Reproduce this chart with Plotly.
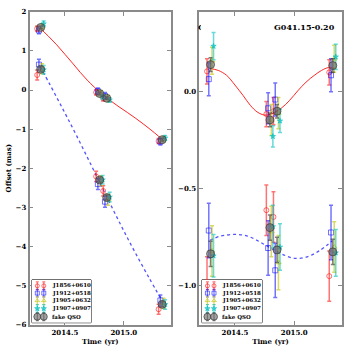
import plotly.graph_objects as go

# ---------------- data ----------------
epochs = [2014.295, 2014.795, 2014.855, 2015.325]
series_names = ["J1856+0610", "J1912+0518", "J1905+0632", "J1907+0907", "fake QSO"]

# left panel (full offsets, mas)
left_upper = {
    "J1856+0610": [1.57, -0.06, -0.21, -1.305],
    "J1912+0518": [1.525, -0.03, -0.15, -1.32],
    "J1905+0632": [1.62, -0.09, -0.22, -1.255],
    "J1907+0907": [1.695, -0.175, -0.255, -1.225],
    "fake QSO":   [1.60, -0.09, -0.21, -1.27],
}
left_lower = {
    "J1856+0610": [0.385, -2.21, -2.58, -5.605],
    "J1912+0518": [0.65, -2.405, -2.855, -5.38],
    "J1905+0632": [0.545, -2.32, -2.805, -5.455],
    "J1907+0907": [0.52, -2.295, -2.735, -5.485],
    "fake QSO":   [0.53, -2.30, -2.75, -5.48],
}
# right panel (proper motion removed, mas)
right_upper = {
    "J1856+0610": [0.105, -0.115, -0.10, 0.10],
    "J1912+0518": [0.065, -0.085, -0.04, 0.085],
    "J1905+0632": [0.16, -0.145, -0.11, 0.17],
    "J1907+0907": [0.235, -0.23, -0.15, 0.18],
    "fake QSO":   [0.14, -0.145, -0.10, 0.135],
}
right_lower = {
    "J1856+0610": [-0.98, -0.61, -0.645, -0.95],
    "J1912+0518": [-0.715, -0.805, -0.92, -0.725],
    "J1905+0632": [-0.82, -0.72, -0.88, -0.80],
    "J1907+0907": [-0.845, -0.695, -0.80, -0.83],
    "fake QSO":   [-0.835, -0.70, -0.815, -0.825],
}
err_upper = {
    "J1856+0610": [0.065, 0.065, 0.07, 0.065],
    "J1912+0518": [0.085, 0.08, 0.085, 0.085],
    "J1905+0632": [0.07, 0.08, 0.08, 0.07],
    "J1907+0907": [0.07, 0.055, 0.06, 0.065],
    "fake QSO":   [0.035, 0.035, 0.035, 0.035],
}
err_lower = {
    "J1856+0610": [0.13, 0.13, 0.13, 0.13],
    "J1912+0518": [0.14, 0.14, 0.14, 0.14],
    "J1905+0632": [0.13, 0.13, 0.14, 0.13],
    "J1907+0907": [0.11, 0.11, 0.12, 0.12],
    "fake QSO":   [0.065, 0.065, 0.065, 0.065],
}

# model curves
fit_t_upper = [2014.29, 2014.36, 2014.43, 2014.5, 2014.57, 2014.63, 2014.69, 2014.75, 2014.80,
               2014.89, 2014.96, 2015.03, 2015.10, 2015.17, 2015.23, 2015.29, 2015.34]
fit_right_upper = [0.12, 0.11, 0.085, 0.035, -0.02, -0.07, -0.105, -0.12, -0.115,
                   -0.085, -0.045, 0.005, 0.05, 0.085, 0.11, 0.125, 0.12]
fit_left_upper = [1.58, 1.377, 1.159, 0.916, 0.669, 0.453, 0.253, 0.073, -0.06,
                  -0.278, -0.431, -0.574, -0.722, -0.879, -1.02, -1.17, -1.313]
fit_t_lower = [2014.29, 2014.37, 2014.45, 2014.52, 2014.6, 2014.7, 2014.8, 2014.91,
               2015.0, 2015.1, 2015.21, 2015.32]
fit_right_lower = [-0.765, -0.745, -0.737, -0.735, -0.742, -0.77, -0.805, -0.84,
                   -0.858, -0.852, -0.82, -0.768]
fit_left_lower = [0.60, 0.157, -0.298, -0.702, -1.172, -1.779, -2.393, -3.065,
                  -3.604, -4.177, -4.782, -5.367]

title_text = "G041.15-0.20"
xtick_vals = [2014.5, 2015.0]
xtick_text = ["2014.5", "2015.0"]

# ---------------- styles ----------------
FONT = "DejaVu Serif"
style = {
    "J1856+0610": dict(symbol="circle-open", size=5, color="rgba(255,0,0,0.55)", dodge=-0.03),
    "J1912+0518": dict(symbol="square-open", size=5, color="rgba(0,0,255,0.55)", dodge=-0.015),
    "J1905+0632": dict(symbol="triangle-up-open", size=5, color="rgba(191,191,0,0.6)", dodge=0.012),
    "J1907+0907": dict(symbol="star", size=4, color="rgba(0,191,191,0.6)", dodge=0.025),
    "fake QSO":   dict(symbol="circle", size=8, color="rgba(105,105,105,0.62)", dodge=0.0),
}

fig = go.Figure()

def add_points(xa, ya, vals, errs):
    for name in series_names:
        st = style[name]
        xs = [t + st["dodge"] for t in epochs]
        ecol = "rgba(40,40,40,0.6)" if name == "fake QSO" else st["color"]
        fig.add_trace(go.Scatter(
            x=xs, y=vals[name], mode="markers", xaxis=xa, yaxis=ya, showlegend=False,
            marker=dict(symbol=st["symbol"], size=st["size"], color=st["color"],
                        line=dict(width=1, color=("rgba(60,60,60,0.7)" if name == "fake QSO" else st["color"]))),
            error_y=dict(type="data", array=errs[name], color=ecol, thickness=1.5, width=2),
        ))

# left panel
fig.add_trace(go.Scatter(x=fit_t_upper, y=fit_left_upper, mode="lines", line=dict(color="rgba(255,0,0,0.85)", width=1, shape="spline"),
                         xaxis="x", yaxis="y", showlegend=False))
fig.add_trace(go.Scatter(x=fit_t_lower, y=fit_left_lower, mode="lines", line=dict(color="rgba(40,40,255,0.8)", width=1.3, dash="3px,3px", shape="spline"),
                         xaxis="x", yaxis="y", showlegend=False))
add_points("x", "y", left_upper, err_upper)
add_points("x", "y", left_lower, err_lower)

# right panel
fig.add_trace(go.Scatter(x=fit_t_upper, y=fit_right_upper, mode="lines", line=dict(color="rgba(255,0,0,0.85)", width=1, shape="spline"),
                         xaxis="x2", yaxis="y2", showlegend=False))
fig.add_trace(go.Scatter(x=fit_t_lower, y=fit_right_lower, mode="lines", line=dict(color="rgba(40,40,255,0.8)", width=1.3, dash="3px,3px", shape="spline"),
                         xaxis="x2", yaxis="y2", showlegend=False))
add_points("x2", "y2", right_upper, err_upper)
add_points("x2", "y2", right_lower, err_lower)

# custom legends (small boxes, bottom-left of each panel)
leg_rows = [0.86, 0.69, 0.515, 0.33, 0.14]
for xa, ya in (("x3", "y3"), ("x4", "y4")):
    for name, yr in zip(series_names, leg_rows):
        st = style[name]
        ecol = "rgba(40,40,40,0.6)" if name == "fake QSO" else st["color"]
        fig.add_trace(go.Scatter(
            x=[0.09, 0.2], y=[yr, yr], mode="markers", xaxis=xa, yaxis=ya, showlegend=False,
            marker=dict(symbol=st["symbol"], size=max(st["size"] - 1, 4), color=st["color"],
                        line=dict(width=1, color=("rgba(60,60,60,0.7)" if name == "fake QSO" else st["color"]))),
            error_y=dict(type="data", array=[0.09, 0.09], color=ecol, thickness=1.2, width=1.5),
            cliponaxis=False,
        ))

axis_line = "#8a8a8a"
tickfont = dict(family=FONT, size=7, color="black", weight="bold")
common_x = dict(range=[2014.2, 2015.4], tickvals=xtick_vals, ticktext=xtick_text, ticks="inside", ticklen=4,
                tickcolor=axis_line, showline=True, linecolor=axis_line, linewidth=1.5, mirror="ticks",
                showgrid=False, zeroline=False, tickfont=tickfont,
                title=dict(text="Time (yr)", font=dict(family=FONT, size=7, color="black", weight="bold"), standoff=3))
common_y = dict(ticks="inside", ticklen=4, tickcolor=axis_line, showline=True, linecolor=axis_line, linewidth=1.5,
                mirror="ticks", showgrid=False, zeroline=False, tickfont=tickfont)

ydom = [1 - 328 / 354, 1 - 7 / 354]
fig.update_layout(
    width=345, height=354, margin=dict(l=0, r=0, t=0, b=0),
    paper_bgcolor="white", plot_bgcolor="white", showlegend=False,
    xaxis=dict(domain=[29.5 / 345, 171 / 345], anchor="y", **common_x),
    yaxis=dict(domain=ydom, anchor="x", range=[-6, 2], dtick=1,
               title=dict(text="Offset (mas)", font=dict(family=FONT, size=7, color="black", weight="bold"), standoff=3),
               **common_y),
    xaxis2=dict(domain=[199.3 / 345, 341.7 / 345], anchor="y2", **common_x),
    yaxis2=dict(domain=ydom, anchor="x2", range=[-1.2, 0.412], dtick=0.5, tickformat=".1f", **common_y),
    xaxis3=dict(domain=[32 / 345, 91 / 345], anchor="y3", range=[0, 1], visible=False),
    yaxis3=dict(domain=[1 - 326 / 354, 1 - 282 / 354], anchor="x3", range=[0, 1], visible=False),
    xaxis4=dict(domain=[202 / 345, 262 / 345], anchor="y4", range=[0, 1], visible=False),
    yaxis4=dict(domain=[1 - 326 / 354, 1 - 282 / 354], anchor="x4", range=[0, 1], visible=False),
)

# legend boxes
for xr, yr in (("x3", "y3"), ("x4", "y4")):
    fig.add_shape(type="rect", xref=f"{xr} domain", yref=f"{yr} domain", x0=0, x1=1, y0=0, y1=1,
                  line=dict(color="black", width=1), fillcolor="white", layer="below")
    for name, yy in zip(series_names, leg_rows):
        fig.add_annotation(x=0.3, y=yy, xref=xr, yref=yr, text=name, showarrow=False, xanchor="left",
                           yanchor="middle", font=dict(family=FONT, size=5.5, color="black", weight="bold"))

# titles
fig.add_annotation(x=0.97, y=0.952, xref="x2 domain", yref="y2 domain", text=title_text, showarrow=False,
                   xanchor="right", yanchor="middle", font=dict(family=FONT, size=8, color="black", weight="bold"))
fig.add_annotation(x=196 / 345, y=1 - 23 / 354, xref="paper", yref="paper", text=title_text, showarrow=False,
                   xanchor="left", yanchor="middle", width=3, align="left",
                   font=dict(family=FONT, size=8, color="black", weight="bold"))

fig.write_html("out.html", config={"displayModeBar": False},
               post_script="document.body.style.margin='0';document.body.style.overflow='hidden';")
